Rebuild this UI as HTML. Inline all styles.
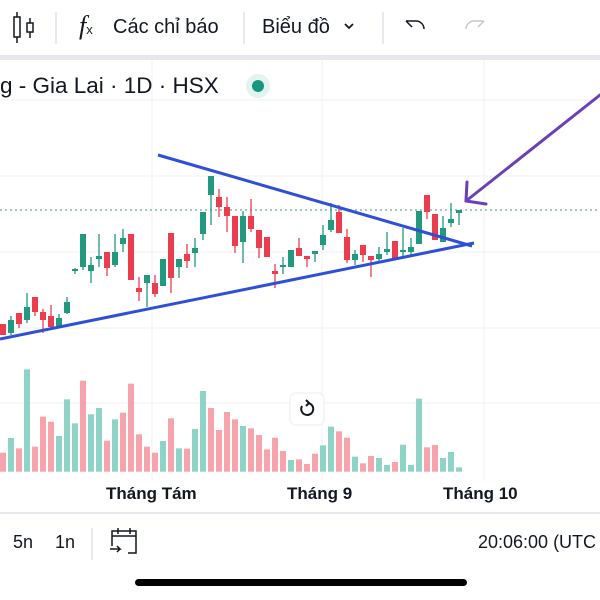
<!DOCTYPE html>
<html><head><meta charset="utf-8"><style>
html,body{margin:0;padding:0;background:#fff;width:600px;height:600px;overflow:hidden;font-family:"Liberation Sans",sans-serif;}
.t{position:absolute;white-space:nowrap;color:#131722;}
</style></head><body>
<div style="position:relative;width:600px;height:600px;">
<svg id="s" width="600" height="600" style="position:absolute;left:0;top:0">
<rect x="0" y="55" width="600" height="5" fill="#e6e8ee"/>
<g stroke="#f0f2f6" stroke-width="1">
<line x1="152" y1="60" x2="152" y2="480"/><line x1="322" y1="60" x2="322" y2="480"/><line x1="484" y1="60" x2="484" y2="480"/>
<line x1="0" y1="100" x2="600" y2="100"/><line x1="0" y1="176" x2="600" y2="176"/><line x1="0" y1="252" x2="600" y2="252"/><line x1="0" y1="328" x2="600" y2="328"/><line x1="0" y1="403" x2="600" y2="403"/>
</g>
<line x1="0" y1="513" x2="600" y2="513" stroke="#e6e8ee" stroke-width="2"/>
<line x1="0" y1="210" x2="600" y2="210" stroke="#6aa89a" stroke-width="1.2" stroke-dasharray="2,3"/>
<g id="vol"></g><g id="cand"></g>
<line x1="158" y1="155" x2="472" y2="246" stroke="#2e4fd8" stroke-width="3"/>
<line x1="0" y1="339" x2="474" y2="243" stroke="#2e4fd8" stroke-width="3"/>
<g stroke="#6a3fb8" stroke-width="3" fill="none" stroke-linecap="round">
<line x1="600" y1="95" x2="466" y2="201"/><polyline points="467,182 466,201 486,204"/>
</g>
<g stroke="#131722" stroke-width="1.5" fill="none">
<line x1="17" y1="12" x2="17" y2="43"/><rect x="14" y="17" width="6" height="20" fill="#fff"/>
<line x1="30" y1="18" x2="30" y2="38"/><rect x="27" y="23" width="6" height="9" fill="#fff"/>
<path d="M412 27 l-6 -6 M406 21 h10 a8 8 0 0 1 8 8"/>
</g>
<path d="M478 27 l6 -6 M484 21 h-10 a8 8 0 0 0 -8 8" stroke="#c5c8d0" stroke-width="1.5" fill="none"/>
<path d="M345 24 l4 4 l4 -4" stroke="#131722" stroke-width="1.8" fill="none"/>
<g stroke="#e0e3eb" stroke-width="1.5"><line x1="56" y1="12" x2="56" y2="44"/><line x1="244" y1="12" x2="244" y2="44"/><line x1="383" y1="12" x2="383" y2="44"/><line x1="92" y1="528" x2="92" y2="560"/></g>
<circle cx="258" cy="86" r="12" fill="#e3f3ef"/><circle cx="258" cy="86" r="6" fill="#15967f"/>
<rect x="290" y="393" width="34" height="32" rx="6" fill="#fff" stroke="#eceef2"/>
<path d="M302 406 a6 6 0 1 0 6 -3" stroke="#131722" stroke-width="2" fill="none"/><path d="M306 400 l3 3 l-3 3" stroke="#131722" stroke-width="2" fill="none"/>
<g stroke="#131722" stroke-width="1.5" fill="none"><path d="M112 546 v-15 h24 v22 h-8"/><line x1="112" y1="536" x2="136" y2="536"/><line x1="118" y1="528" x2="118" y2="534"/><line x1="130" y1="528" x2="130" y2="534"/><path d="M110 549 h10 l-3 -3 M120 549 l-3 3"/></g>
<rect x="135" y="579" width="332" height="7" rx="3.5" fill="#000"/>
</svg>
<div class="t" style="left:79px;top:11px;font-family:'Liberation Serif',serif;font-style:italic;font-size:26px;">f<span style="font-size:13px;font-style:normal;font-family:'Liberation Sans'">x</span></div>
<div class="t" style="left:113px;top:16px;font-size:20px;">Các chỉ báo</div>
<div class="t" style="left:262px;top:16px;font-size:20px;">Biểu đồ</div>
<div class="t" style="left:0;top:73px;font-size:22.5px;">g - Gia Lai · 1D · HSX</div>
<div class="t" style="left:106px;top:484px;font-size:17px;font-weight:bold;">Tháng Tám</div>
<div class="t" style="left:287px;top:484px;font-size:17px;font-weight:bold;">Tháng 9</div>
<div class="t" style="left:443px;top:484px;font-size:17px;font-weight:bold;">Tháng 10</div>
<div class="t" style="left:13px;top:532px;font-size:18px;">5n</div>
<div class="t" style="left:55px;top:532px;font-size:18px;">1n</div>
<div class="t" style="left:478px;top:532px;font-size:18px;">20:06:00 (UTC</div>
</div>
<script>
var G='#22987f',R='#ec3d4f',GV='#8fd3c7',RV='#f6a3ab';
var vol=[[278,0],[234,1],[265,0],[28,1],[260,0],[170,0],[185,0],[228,1],[118,1],[190,1],[62,0],[163,1],[144,1],[242,0],[178,1],[158,0],[71,0],[223,0],[260,0],[278,0],[243,1],[175,0],[265,1],[266,0],[207,1],[93,1],[144,0],[210,0],[156,0],[178,0],[198,1],[205,0],[225,0],[268,0],[233,0],[273,0],[300,1],[298,0],[312,0],[281,0],[256,1],[200,1],[214,0],[233,0],[290,1],[310,0],[288,0],[294,1],[315,1],[306,0],[254,1],[315,1],[116,1],[262,0],[255,0],[294,1],[276,1],[322,1]];
var c=[[324,335,324,335,0],[320,333,316,335,1],[313,324,313,328,0],[307,320,293,323,1],[297,312,297,316,0],[312,320,309,333,0],[316,327,305,328,0],[318,327,314,327,1],[302,313,297,314,1],[269,271,268,274,1],[234,267,234,270,1],[265,271,257,283,1],[256,259,234,267,1],[252,268,252,276,0],[252,265,234,267,1],[238,244,229,252,1],[234,280,234,280,0],[288,292,277,301,0],[275,283,275,307,1],[283,294,275,297,0],[259,286,259,286,1],[233,278,233,293,0],[259,267,259,278,1],[254,261,244,268,0],[248,253,238,267,1],[212,234,212,240,1],[176,195,176,225,1],[197,207,189,217,0],[207,216,197,232,0],[216,246,216,253,0],[216,242,211,263,1],[216,229,199,232,0],[230,248,230,258,0],[237,257,237,257,0],[271,274,264,288,0],[265,266,257,274,1],[250,267,250,267,1],[248,256,238,256,0],[256,259,256,267,0],[251,254,251,262,1],[235,245,225,250,1],[220,230,203,232,1],[212,233,205,233,0],[237,260,229,263,0],[254,260,250,265,1],[245,255,245,262,0],[256,260,256,277,0],[254,259,247,263,1],[249,252,232,255,1],[241,259,241,259,0],[250,252,228,257,1],[247,252,238,255,1],[211,244,211,244,1],[195,212,195,219,0],[214,240,214,240,0],[228,242,216,242,1],[219,223,203,227,1],[210,213,210,225,1]];
var h='',k='';
vol.forEach(function(v,i){var x=3+8*i;h+='<rect x="'+(x-3)+'" y="'+(360+v[0]/3)+'" width="6" height="'+(471.7-360-v[0]/3)+'" fill="'+(v[1]?GV:RV)+'"/>';});
c.forEach(function(d,i){var x=3+8*i,col=d[4]?G:R;k+='<line x1="'+x+'" y1="'+d[2]+'" x2="'+x+'" y2="'+d[3]+'" stroke="'+col+'" stroke-width="1.3"/><rect x="'+(x-3)+'" y="'+d[0]+'" width="6" height="'+Math.max(2,d[1]-d[0])+'" fill="'+col+'"/>';});
document.getElementById('vol').innerHTML=h;document.getElementById('cand').innerHTML=k;
</script>
</body></html>
